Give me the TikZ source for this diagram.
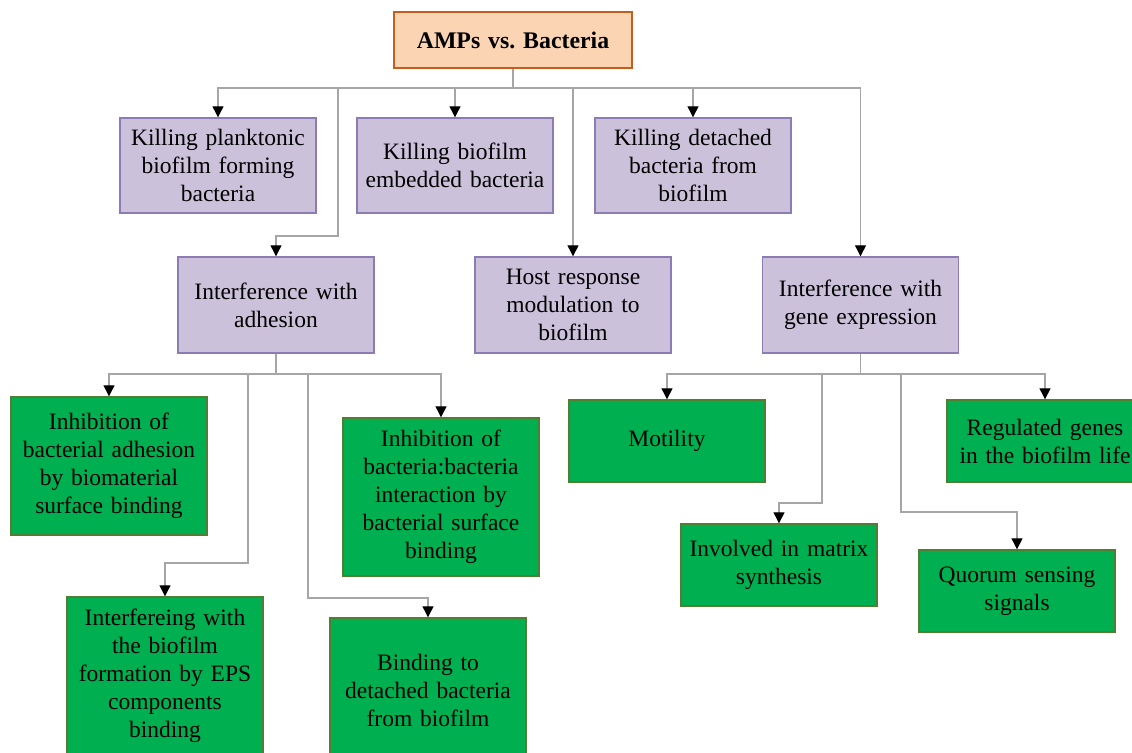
\documentclass[tikz,border=0pt]{standalone}
\usepackage{fontspec}
\setmainfont{Liberation Serif}
\usepackage{tikz}
\usetikzlibrary{arrows.meta}
\usetikzlibrary{positioning}

\definecolor{rootfill}{HTML}{FBD4B4}
\definecolor{rootdraw}{HTML}{C65D1E}
\definecolor{lilac}{HTML}{CCC1DA}
\definecolor{lilacdraw}{HTML}{8C7BB5}
\definecolor{leaf}{HTML}{00B050}
\definecolor{leafdraw}{HTML}{507E32}
\definecolor{wire}{HTML}{A6A6A6}

\tikzstyle{box} = [rectangle, draw, line width=1.4pt, inner sep=0pt,
    minimum width=196, text width=194, align=center,
    font=\fontsize{23.5}{28}\selectfont]
\tikzstyle{topbox} = [box, fill=rootfill, draw=rootdraw, minimum width=238,
    text width=230, minimum height=56, font=\fontsize{23.8}{28}\selectfont\bfseries]
\tikzstyle{mid} = [box, fill=lilac, draw=lilacdraw]
\tikzstyle{leafbox} = [box, fill=leaf, draw=leafdraw]
\tikzstyle{link} = [draw=wire, line width=1.2pt]
\tikzstyle{linkarrow} = [link, -{Triangle[black,width=11pt,length=11pt]}]

\begin{document}
\begin{tikzpicture}[x=1pt,y=-1pt]
\clip (0,0) rectangle (1132,752);
\fill[white] (0,0) rectangle (1132,752);

\node[topbox] (root) at (513,40) {AMPs vs.\ Bacteria};

\node[mid,minimum height=95] (plank) at (218,165.5) {Killing planktonic\\biofilm forming\\bacteria};
\node[mid,minimum height=95] (embed) at (455,165.5) {Killing biofilm\\embedded bacteria};
\node[mid,minimum height=95] (detach) at (693,165.5) {Killing detached\\bacteria from\\biofilm};

\node[mid,minimum height=96] (adhes) at (276,305) {Interference with\\adhesion};
\node[mid,minimum height=96] (host) at (573,305) {Host response\\modulation to\\biofilm};
\node[mid,minimum height=96] (gene) at (860.5,305) {Interference with\\gene expression};

\node[leafbox,minimum height=138] (surf) at (109,466) {Inhibition of\\bacterial adhesion\\by biomaterial\\surface binding};
\node[leafbox,minimum height=158] (bacbac) at (441,497) {Inhibition of\\bacteria:bacteria\\interaction by\\bacterial surface\\binding};
\node[leafbox,minimum height=158] (eps) at (165,676) {Interfereing with\\the biofilm\\formation by EPS\\components\\binding};
\node[leafbox,minimum height=144] (bind) at (428,690) {Binding to\\detached bacteria\\from biofilm};

\node[leafbox,minimum height=82] (motil) at (667,441) {Motility};
\node[leafbox,minimum height=82] (regul) at (1045,441) {Regulated genes\\in the biofilm life};
\node[leafbox,minimum height=82] (matrix) at (779,565) {Involved in matrix\\synthesis};
\node[leafbox,minimum height=82] (quorum) at (1017,591) {Quorum sensing\\signals};

\coordinate (bus1) at (513,88);
\coordinate (bendA) at (338,236);
\coordinate (bus2) at (276,374);
\coordinate (bendB) at (248,563);
\coordinate (bendC) at (308,598);
\coordinate (bus3) at (860.5,374);
\coordinate (bendD) at (822,503);
\coordinate (bendE) at (901,512);

\draw[link] (root.south) -- (bus1);
\draw[linkarrow] (bus1) -| (plank.north);
\draw[linkarrow] (bus1) -| (embed.north);
\draw[linkarrow] (bus1) -| (detach.north);
\draw[linkarrow] (bus1) -| (bendA) -| (adhes.north);
\draw[linkarrow] (bus1) -| (host.north);
\draw[linkarrow] (bus1) -| (gene.north);

\draw[link] (adhes.south) -- (bus2);
\draw[linkarrow] (bus2) -| (surf.north);
\draw[linkarrow] (bus2) -| (bacbac.north);
\draw[linkarrow] (bus2) -| (bendB) -| (eps.north);
\draw[linkarrow] (bus2) -| (bendC) -| (bind.north);

\draw[link] (gene.south) -- (bus3);
\draw[linkarrow] (bus3) -| (motil.north);
\draw[linkarrow] (bus3) -| (regul.north);
\draw[linkarrow] (bus3) -| (bendD) -| (matrix.north);
\draw[linkarrow] (bus3) -| (bendE) -| (quorum.north);

\end{tikzpicture}
\end{document}
